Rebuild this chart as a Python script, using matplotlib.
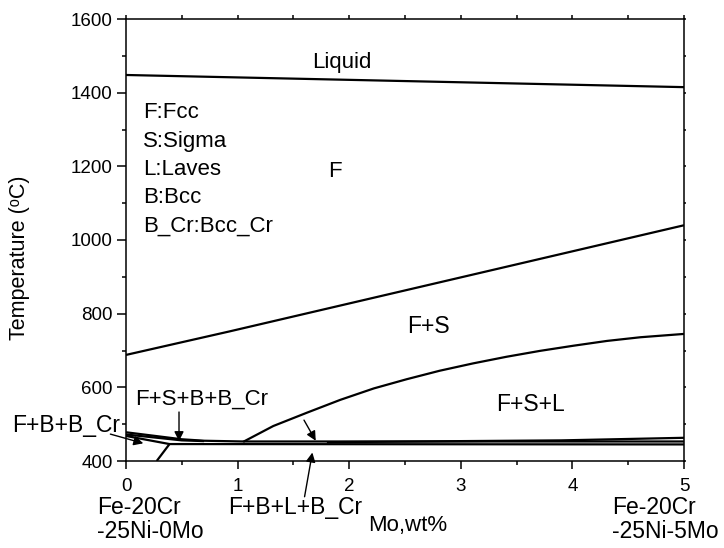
import numpy as np
import matplotlib
matplotlib.use('Agg')
import matplotlib.pyplot as plt
from matplotlib.ticker import MultipleLocator

plt.rcParams['font.family'] = ['Liberation Sans', 'DejaVu Sans']

# phase boundaries (x = Mo wt%, T = deg C)
liq_x = [0, 5]
liq_t = [1448, 1415]

fs_x = [0, 0.93, 5]
fs_t = [688, 752, 1040]

fsl_x = [1.05, 1.32, 1.62, 1.92, 2.22, 2.515, 2.81, 3.11, 3.41, 3.71, 4.01, 4.31, 4.61, 5]
fsl_t = [452, 495, 531, 566, 597, 622, 645, 665, 683, 699, 713, 726, 736, 745]

low1_x = [0, 0.39, 5]
low1_t = [468, 446, 445]
low2_x = [0.275, 0.39]
low2_t = [400, 446]
low3_x = [0, 0.5, 0.7, 1.05, 5]
low3_t = [478, 459, 455, 453, 453]
low4_x = [0, 0.5, 0.7]
low4_t = [472, 456, 454]
low5_x = [1.8, 3.0, 3.9, 5]
low5_t = [451, 454, 456, 463]

legend_lines = ['F:Fcc', 'S:Sigma', 'L:Laves', 'B:Bcc', 'B_Cr:Bcc_Cr']
legend_t = [1330, 1253, 1176, 1100, 1023]

fig = plt.figure(figsize=(7.24, 5.48), dpi=100)
ax = fig.add_axes([126/724, 87/548, 558/724, 442/548])

lw = 1.6
for xs, ts in [(liq_x, liq_t), (fs_x, fs_t), (fsl_x, fsl_t), (low1_x, low1_t),
               (low2_x, low2_t), (low3_x, low3_t), (low4_x, low4_t), (low5_x, low5_t)]:
    ax.plot(xs, ts, color='black', lw=lw, solid_capstyle='butt', solid_joinstyle='round')

ax.set_xlim(0, 5)
ax.set_ylim(400, 1600)
ax.xaxis.set_major_locator(MultipleLocator(1))
ax.xaxis.set_minor_locator(MultipleLocator(0.5))
ax.yaxis.set_major_locator(MultipleLocator(200))
ax.yaxis.set_minor_locator(MultipleLocator(100))
ax.tick_params(which='both', direction='out', top=True, right=True, width=1.1,
               labelsize=13.5, colors='black')
ax.tick_params(axis='x', which='major', length=6, pad=6)
ax.tick_params(axis='y', which='major', length=6.5, pad=3)
ax.tick_params(which='minor', length=3)
ax.tick_params(axis='both', which='both', labeltop=False, labelright=False)
for t in ax.xaxis.get_ticklines(minor=False)[1::2] + ax.xaxis.get_ticklines(minor=True)[1::2]:
    t.set_markersize(3)
for t in ax.yaxis.get_ticklines(minor=False)[1::2] + ax.yaxis.get_ticklines(minor=True)[1::2]:
    t.set_markersize(1.5)
for s in ax.spines.values():
    s.set_linewidth(1.1)

ax.set_ylabel('Temperature (\u1d52C)', fontsize=15.5)
ax.yaxis.set_label_coords(-0.172, 0.46)

# region labels
ax.text(1.667, 1467, 'Liquid', fontsize=16, va='baseline')
for lab, t in zip(legend_lines, legend_t):
    ax.text(0.153, t, lab, fontsize=16, va='baseline')
ax.text(1.81, 1172, 'F', fontsize=16, va='baseline')
ax.text(2.515, 747, 'F+S', fontsize=16.5, va='baseline')
ax.text(3.32, 536, 'F+S+L', fontsize=16.5, va='baseline')
ax.text(0.08, 552, 'F+S+B+B_Cr', fontsize=16, va='baseline')
ax.text(-1.02, 478, 'F+B+B_Cr', fontsize=16.5, va='baseline', clip_on=False)
ax.text(0.914, 256, 'F+B+L+B_Cr', fontsize=16.5, va='baseline', clip_on=False)
ax.text(2.17, 210, 'Mo,wt%', fontsize=16, va='baseline', clip_on=False)
ax.text(-0.26, 256, 'Fe-20Cr', fontsize=16.5, va='baseline', clip_on=False)
ax.text(-0.26, 191, '-25Ni-0Mo', fontsize=16.5, va='baseline', clip_on=False)
ax.text(4.355, 256, 'Fe-20Cr', fontsize=16.5, va='baseline', clip_on=False)
ax.text(4.355, 191, '-25Ni-5Mo', fontsize=16.5, va='baseline', clip_on=False)

arrow = dict(arrowstyle='-|>', color='black', lw=1.0, mutation_scale=14, shrinkA=0, shrinkB=0)
ax.annotate('', xy=(0.475, 454), xytext=(0.475, 533), arrowprops=arrow)
ax.annotate('', xy=(0.155, 448), xytext=(-0.14, 473), arrowprops=arrow, annotation_clip=False)
ax.annotate('', xy=(1.67, 423), xytext=(1.6, 303), arrowprops=arrow, annotation_clip=False)
ax.annotate('', xy=(1.70, 455), xytext=(1.595, 511), arrowprops=arrow)

fig.savefig('out.png', dpi=100)
